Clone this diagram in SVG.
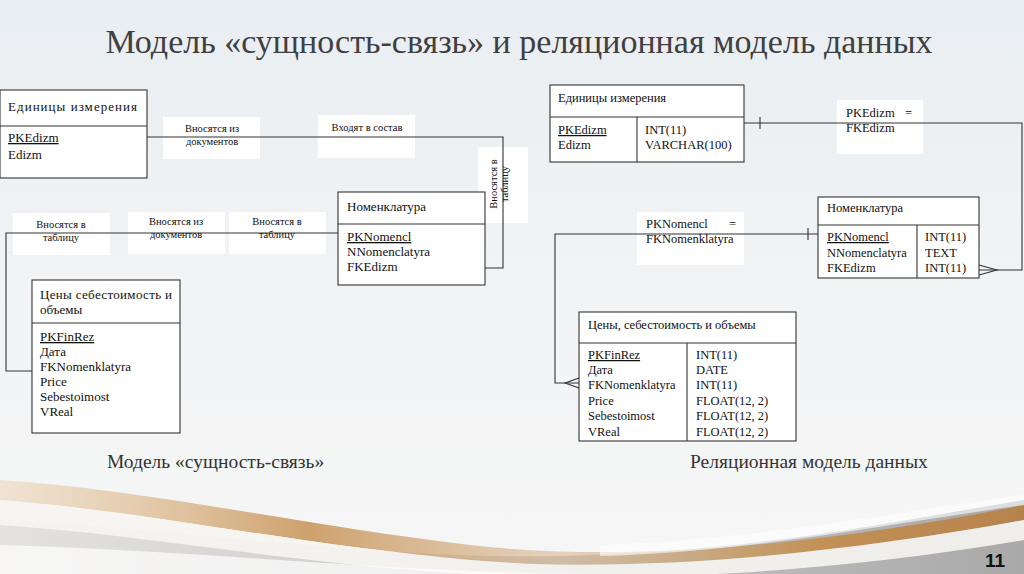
<svg xmlns="http://www.w3.org/2000/svg" width="1024" height="574" viewBox="0 0 1024 574">
<defs>
<style>
.t{fill:#111}
.h{font-size:13px}
.r{font-size:12.5px}
.rh{font-size:12.5px}
.lb{font-size:10.5px}
.box{fill:#fff;stroke:#333;stroke-width:1.1}
.lbl{fill:#fff}
.ln{fill:none;stroke:#333;stroke-width:1.1}
.u{text-decoration:underline}
</style>
<linearGradient id="bg" x1="0" y1="0" x2="0" y2="1">
<stop offset="0" stop-color="#e9eef2"/>
<stop offset="0.6" stop-color="#f3f4f5"/>
<stop offset="1" stop-color="#f6f6f6"/>
</linearGradient>
<linearGradient id="gold" x1="0" y1="0" x2="1" y2="0">
<stop offset="0" stop-color="#e9cda8" stop-opacity="0.5"/>
<stop offset="0.3" stop-color="#c9985e"/>
<stop offset="0.55" stop-color="#d6b48c" stop-opacity="0.6"/>
<stop offset="0.8" stop-color="#c48d4c"/>
<stop offset="1" stop-color="#b77f42"/>
</linearGradient>
<linearGradient id="gray" x1="0" y1="0" x2="1" y2="0">
<stop offset="0" stop-color="#e4e2df"/>
<stop offset="0.5" stop-color="#c9c9c9"/>
<stop offset="1" stop-color="#a9a9a9"/>
</linearGradient>
</defs>
<rect x="0" y="0" width="1024" height="574" fill="url(#bg)"/>
<path d="M0,520 C200,530 380,560 560,556 C760,552 900,520 1024,500 L1024,574 L0,574 Z" fill="url(#gray)"/>
<path d="M0,480 C150,490 300,525 470,545 C640,565 850,540 1024,505 L1024,520 C850,552 640,575 470,560 C300,545 150,512 0,500 Z" fill="url(#gold)" opacity="0.9"/>
<path d="M0,500 C150,512 300,545 470,560 C640,575 850,552 1024,520 L1024,540 C850,570 640,585 470,574 C300,565 150,535 0,525 Z" fill="#f7f5f2" opacity="0.9"/>
<path d="M0,545 C200,550 400,574 600,574 L0,574 Z" fill="#ffffff" opacity="0.7"/>
<path d="M600,545 C750,540 880,515 1024,495 L1024,505 C880,525 750,552 600,556 Z" fill="#ffffff" opacity="0.6"/>

<g font-family="Liberation Serif, Times New Roman, serif">
<text x="519" y="53" font-size="34" fill="#404040" text-anchor="middle">Модель «сущность-связь» и реляционная модель данных</text>

<g id="labels-left">
<rect class="lbl" x="163" y="117" width="97" height="42"/>
<rect class="lbl" x="318" y="115" width="97" height="43"/>
<rect class="lbl" x="478" y="147" width="50" height="76"/>
<rect class="lbl" x="13" y="213" width="97" height="42"/>
<rect class="lbl" x="128" y="212" width="97" height="42"/>
<rect class="lbl" x="229" y="212" width="97" height="42"/>
</g>
<g id="labels-right">
<rect class="lbl" x="837" y="100" width="86" height="54"/>
<rect class="lbl" x="637" y="212" width="107" height="53"/>
</g>

<g id="connectors">
<polyline class="ln" points="147,137 503,137 503,268 485,268"/>
<polyline class="ln" points="338,233 6,233 6,371 32,371"/>
<polyline class="ln" points="744,123 1022,123 1022,270 979,270"/>
<line class="ln" x1="760" y1="117" x2="760" y2="129"/>
<polyline class="ln" points="979,265 997,270 979,275"/>
<polyline class="ln" points="818,234 555,234 555,383 579,383"/>
<line class="ln" x1="808" y1="228" x2="808" y2="240"/>
<polyline class="ln" points="579,378 565,383 579,388"/>
</g>

<g id="label-texts">
<text class="t lb" x="212" y="132" text-anchor="middle">Вносятся из</text>
<text class="t lb" x="212" y="145" text-anchor="middle">документов</text>
<text class="t lb" x="367" y="131" text-anchor="middle">Входят в состав</text>
<g transform="translate(497,184) rotate(-90)">
<text class="t lb" x="0" y="0" text-anchor="middle">Вносятся в</text>
<text class="t lb" x="0" y="11" text-anchor="middle">таблицу</text>
</g>
<text class="t lb" x="61" y="228" text-anchor="middle">Вносятся в</text>
<text class="t lb" x="61" y="241" text-anchor="middle">таблицу</text>
<text class="t lb" x="176" y="225" text-anchor="middle">Вносятся из</text>
<text class="t lb" x="176" y="238" text-anchor="middle">документов</text>
<text class="t lb" x="277" y="225" text-anchor="middle">Вносятся в</text>
<text class="t lb" x="277" y="238" text-anchor="middle">таблицу</text>
<text class="t rh" x="846" y="117">PKEdizm<tspan x="905">=</tspan></text>
<text class="t rh" x="846" y="132">FKEdizm</text>
<text class="t rh" x="646" y="228">PKNomencl<tspan x="729">=</tspan></text>
<text class="t rh" x="646" y="243">FKNomenklatyra</text>
</g>

<g id="er-edizm">
<rect class="box" x="0" y="90" width="147" height="88"/>
<line class="ln" x1="0" y1="126" x2="147" y2="126"/>
<text class="t h" x="8" y="111" textLength="129" lengthAdjust="spacing">Единицы измерения</text>
<text class="t h u" x="8" y="142">PKEdizm</text>
<text class="t h" x="8" y="159">Edizm</text>
</g>
<g id="er-nomencl">
<rect class="box" x="338" y="192" width="147" height="93"/>
<line class="ln" x1="338" y1="224" x2="485" y2="224"/>
<text class="t h" x="347" y="211">Номенклатура</text>
<text class="t h u" x="347" y="241">PKNomencl</text>
<text class="t h" x="347" y="256">NNomenclatyra</text>
<text class="t h" x="347" y="271">FKEdizm</text>
</g>
<g id="er-ceny">
<rect class="box" x="32" y="280" width="148" height="153"/>
<line class="ln" x1="32" y1="323" x2="180" y2="323"/>
<text class="t h" x="40" y="299" textLength="132" lengthAdjust="spacing">Цены себестоимость и</text>
<text class="t h" x="40" y="314">объемы</text>
<text class="t h u" x="40" y="341">PKFinRez</text>
<text class="t h" x="40" y="356">Дата</text>
<text class="t h" x="40" y="371">FKNomenklatyra</text>
<text class="t h" x="40" y="386">Price</text>
<text class="t h" x="40" y="401">Sebestoimost</text>
<text class="t h" x="40" y="416">VReal</text>
</g>

<g id="rel-edizm">
<rect class="box" x="550" y="85" width="194" height="77"/>
<line class="ln" x1="550" y1="117" x2="744" y2="117"/>
<line class="ln" x1="637" y1="117" x2="637" y2="162"/>
<text class="t rh" x="558" y="102">Единицы измерения</text>
<text class="t r u" x="558" y="134">PKEdizm</text>
<text class="t r" x="558" y="149">Edizm</text>
<text class="t r" x="645" y="134">INT(11)</text>
<text class="t r" x="645" y="149">VARCHAR(100)</text>
</g>
<g id="rel-nomencl">
<rect class="box" x="818" y="197" width="161" height="81"/>
<line class="ln" x1="818" y1="225" x2="979" y2="225"/>
<line class="ln" x1="917" y1="225" x2="917" y2="278"/>
<text class="t rh" x="827" y="212">Номенклатура</text>
<text class="t r u" x="827" y="241">PKNomencl</text>
<text class="t r" x="827" y="257">NNomenclatyra</text>
<text class="t r" x="827" y="272">FKEdizm</text>
<text class="t r" x="925" y="241">INT(11)</text>
<text class="t r" x="925" y="257">TEXT</text>
<text class="t r" x="925" y="272">INT(11)</text>
</g>
<g id="rel-ceny">
<rect class="box" x="579" y="312" width="217" height="129"/>
<line class="ln" x1="579" y1="343" x2="796" y2="343"/>
<line class="ln" x1="687" y1="343" x2="687" y2="441"/>
<text class="t rh" x="588" y="329">Цены, себестоимость и объемы</text>
<text class="t r u" x="588" y="359">PKFinRez</text>
<text class="t r" x="588" y="374">Дата</text>
<text class="t r" x="588" y="389">FKNomenklatyra</text>
<text class="t r" x="588" y="405">Price</text>
<text class="t r" x="588" y="420">Sebestoimost</text>
<text class="t r" x="588" y="436">VReal</text>
<text class="t r" x="696" y="359">INT(11)</text>
<text class="t r" x="696" y="374">DATE</text>
<text class="t r" x="696" y="389">INT(11)</text>
<text class="t r" x="696" y="405">FLOAT(12, 2)</text>
<text class="t r" x="696" y="420">FLOAT(12, 2)</text>
<text class="t r" x="696" y="436">FLOAT(12, 2)</text>
</g>

<text x="107" y="468" font-size="19.5" fill="#333">Модель «сущность-связь»</text>
<text x="690" y="468" font-size="19.5" fill="#333">Реляционная модель данных</text>
</g>
<text x="1005" y="567" font-family="Liberation Sans Narrow, Liberation Sans, sans-serif" font-weight="bold" font-size="19" fill="#111" text-anchor="end">11</text>
</svg>
